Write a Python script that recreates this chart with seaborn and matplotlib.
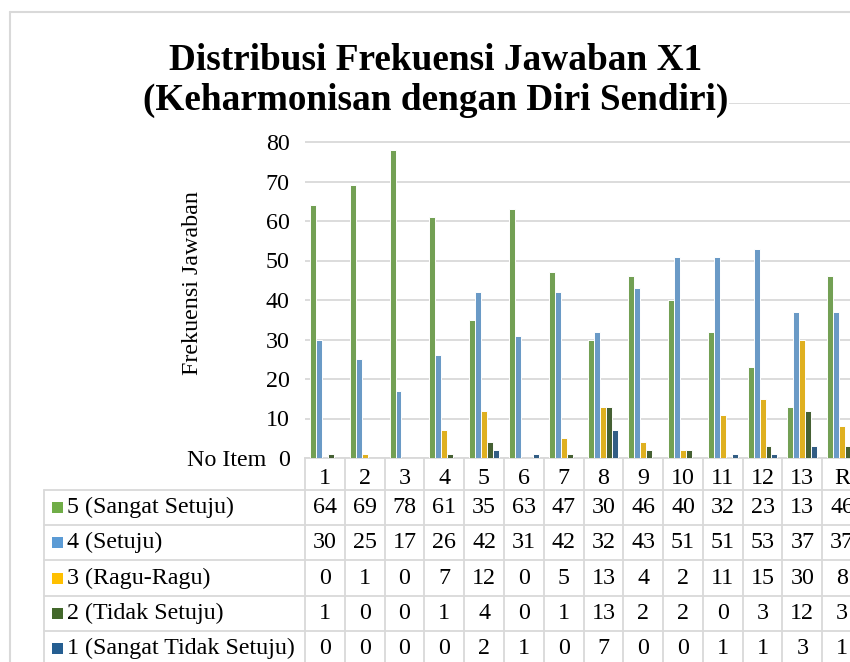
import matplotlib
matplotlib.use("Agg")
import matplotlib.pyplot as plt
import matplotlib.transforms as mtransforms
from matplotlib.patches import Rectangle
import seaborn as sns
import pandas as pd

# ---------------- data ----------------
items = ['1', '2', '3', '4', '5', '6', '7', '8', '9', '10', '11', '12', '13', 'R']
series_names = ['5 (Sangat Setuju)', '4 (Setuju)', '3 (Ragu-Ragu)',
                '2 (Tidak Setuju)', '1 (Sangat Tidak Setuju)']
s5 = [64, 69, 78, 61, 35, 63, 47, 30, 46, 40, 32, 23, 13, 46]
s4 = [30, 25, 17, 26, 42, 31, 42, 32, 43, 51, 51, 53, 37, 37]
s3 = [0, 1, 0, 7, 12, 0, 5, 13, 4, 2, 11, 15, 30, 8]
s2 = [1, 0, 0, 1, 4, 0, 1, 13, 2, 2, 0, 3, 12, 3]
s1 = [0, 0, 0, 0, 2, 1, 0, 7, 0, 0, 1, 1, 3, 1]
series_values = [s5, s4, s3, s2, s1]
colors = ['#70AD47', '#5B9BD5', '#FFC000', '#43682B', '#255E91']
yticks = [0, 10, 20, 30, 40, 50, 60, 70, 80, 90]

title1 = 'Distribusi Frekuensi Jawaban X1'
title2 = '(Keharmonisan dengan Diri Sendiri)'
ylabel = 'Frekuensi Jawaban'
corner_label = 'No Item'

rows = []
for name, vals in zip(series_names, series_values):
    for it, v in zip(items, vals):
        rows.append({'item': it, 'series': name, 'value': v})
df = pd.DataFrame(rows)

# ---------------- style ----------------
sns.set_style('white')
plt.rcParams['font.family'] = ['Liberation Serif', 'DejaVu Serif']
plt.rcParams['text.color'] = 'black'
plt.rcParams['xtick.color'] = 'black'
plt.rcParams['ytick.color'] = 'black'

W, H = 850, 662
fig = plt.figure(figsize=(W / 100, H / 100), dpi=100)

def fx(px):
    return px / W

def fy(py):
    return 1 - py / H

grid_c = '#D9D9D9'
FS = 17.3

ax_left, ax_right, ax_top, ax_bot = 305, 862, 102.5, 458
ax = fig.add_axes([fx(ax_left), fy(ax_bot), (ax_right - ax_left) / W, (ax_bot - ax_top) / H])

sns.barplot(data=df, x='item', y='value', hue='series', order=items,
            hue_order=series_names, palette=colors, width=0.75,
            edgecolor='white', linewidth=0.7, ax=ax, legend=False, zorder=3)

ax.set_xlim(-0.5, len(items) - 0.5)
ax.set_ylim(0, 90)
ax.set_yticks(yticks)
ax.set_yticklabels([str(t) for t in yticks], fontsize=FS)
ax.tick_params(axis='y', length=0, pad=11)
ax.set_xticks(range(len(items)))
ax.set_xticklabels(items, fontsize=FS)
ax.tick_params(axis='x', length=0, pad=7)
ax.set_xlabel('')
ax.set_ylabel('')
ax.yaxis.grid(True, color=grid_c, linewidth=1.3, zorder=0)
ax.set_axisbelow(True)
for sp in ['top', 'right', 'left']:
    ax.spines[sp].set_visible(False)
ax.spines['bottom'].set_color(grid_c)
ax.spines['bottom'].set_linewidth(1.3)

# ---------------- data table ----------------
trans = mtransforms.blended_transform_factory(ax.transData, fig.transFigure)
row_bounds = [490, 525, 560, 596, 631, 666]
row_centers = [(row_bounds[i] + row_bounds[i + 1]) / 2 for i in range(5)]

for k in range(len(items) + 1):
    ax.plot([k - 0.5, k - 0.5], [fy(ax_bot), fy(H + 5)], transform=trans,
            color=grid_c, linewidth=1.3, clip_on=False, zorder=1)
for yb in row_bounds[:-1]:
    fig.add_artist(plt.Line2D([fx(44), fx(W + 20)], [fy(yb), fy(yb)],
                              color=grid_c, linewidth=1.3))
fig.add_artist(plt.Line2D([fx(44), fx(44)], [fy(490), fy(H + 5)],
                          color=grid_c, linewidth=1.3))

for r, (name, vals, col) in enumerate(zip(series_names, series_values, colors)):
    yc = row_centers[r]
    fig.add_artist(Rectangle((fx(52), fy(yc + 5.5)), 11 / W, 11 / H,
                             facecolor=col, edgecolor='none'))
    fig.text(fx(67), fy(yc), name, fontsize=FS, ha='left', va='center')
    for i, v in enumerate(vals):
        ax.text(i, fy(yc), str(v), transform=trans, fontsize=FS,
                ha='center', va='center', clip_on=False)

fig.text(fx(266), fy(461), corner_label, fontsize=FS, ha='right', va='center')
fig.text(fx(192), fy(283), ylabel, fontsize=FS, rotation=90, ha='center', va='center')

# chart frame
fig.add_artist(plt.Line2D([fx(10), fx(10)], [fy(12), fy(H + 5)], color=grid_c, linewidth=1.5))
fig.add_artist(plt.Line2D([fx(10), fx(W + 5)], [fy(12), fy(12)], color=grid_c, linewidth=1.5))

# title
tb = dict(facecolor='white', edgecolor='none', pad=0)
fig.text(fx(436), fy(70), title1, fontsize=26.8, fontweight='bold',
         ha='center', va='baseline', bbox=tb)
fig.text(fx(436), fy(110), title2, fontsize=26.8, fontweight='bold',
         ha='center', va='baseline', bbox=tb)

fig.savefig('out.png', dpi=100)
